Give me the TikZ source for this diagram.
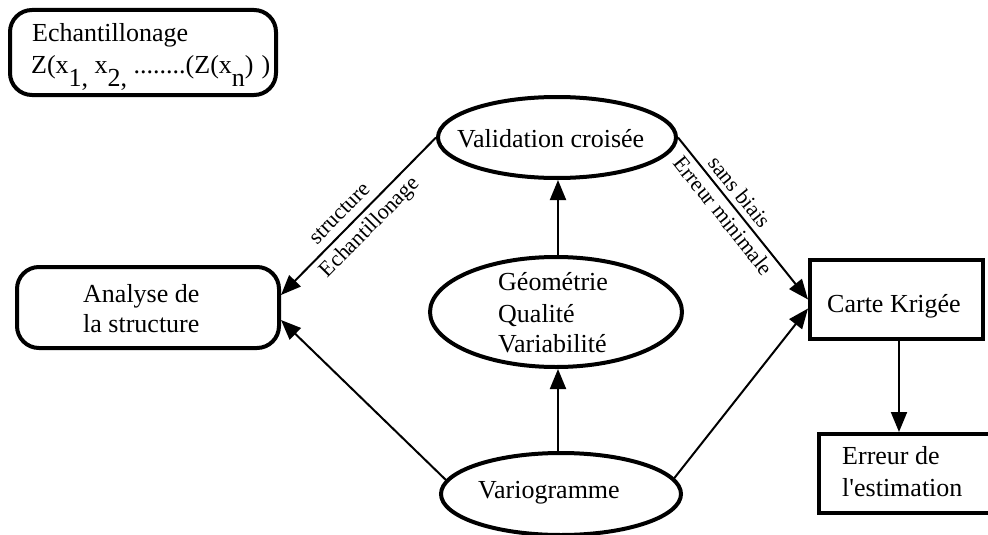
\documentclass[tikz,border=0pt]{standalone}
\usepackage{fontspec}
\setmainfont{Liberation Serif}
\usetikzlibrary{arrows.meta,shapes.geometric}
\newcommand\lowsub[1]{\raisebox{-13pt}{#1}}
\begin{document}
\begin{tikzpicture}[x=1pt,y=1pt,
  shapebox/.style={draw, line width=4pt, inner sep=0pt},
  rbox/.style={shapebox, rectangle, rounded corners=22pt},
  sbox/.style={shapebox, rectangle},
  ell/.style={shapebox, ellipse},
  txt/.style={inner sep=0pt, anchor=base west, font=\fontsize{26}{30}\selectfont},
  lab/.style={inner sep=1.5pt, font=\fontsize{22}{26}\selectfont, sloped},
  arr/.style={line width=2pt, -{Triangle[length=20pt,width=16pt]}}]
\useasboundingbox (0,0) rectangle (988,-535);

% shapes
\node[rbox, minimum width=266pt, minimum height=85pt] (samp) at (143,-52.5) {};
\node[rbox, minimum width=262pt, minimum height=81pt] (ana) at (148,-307.5) {};
\node[sbox, minimum width=173pt, minimum height=79pt] (carte) at (896.5,-299.5) {};
\node[sbox, minimum width=176pt, minimum height=79pt] (err) at (907,-473.5) {};
\node[ell, minimum width=238pt, minimum height=81pt] (val) at (557,-137.5) {};
\node[ell, minimum width=252pt, minimum height=110pt] (geo) at (556,-312) {};
\node[ell, minimum width=240pt, minimum height=82pt] (vario) at (561,-494) {};

% texts
\node[txt] (sampA) at (32,-42) {Echantillonage};
\node[txt] (sampB) at (31,-74) {Z(x\lowsub{1,} x\lowsub{2,} ........(Z(x\lowsub{n})\hspace{8pt})};
\node[txt] (anaA) at (83,-302) {Analyse de};
\node[txt] (anaB) at (83,-332) {la structure};
\node[txt] (valT) at (457,-147) {Validation croisée};
\node[txt] (geoA) at (498,-290) {Géométrie};
\node[txt] (geoB) at (498,-322) {Qualité};
\node[txt] (geoC) at (498,-352) {Variabilité};
\node[txt] (varT) at (478,-498) {Variogramme};
\node[txt] (carteT) at (827,-312) {Carte Krigée};
\node[txt] (errA) at (842,-464) {Erreur de};
\node[txt] (errB) at (842,-496) {l\textquotesingle estimation};

% connectors
\draw[arr] (val.west) -- node[lab, above=6pt, pos=0.55] {structure}
                         node[lab, below=4pt, pos=0.5] {Echantillonage}
           ([yshift=12.5pt]ana.east);
\draw[arr] (vario.173) -- ([yshift=-12.5pt]ana.east);
\draw[arr] (val.east) -- node[lab, above=4pt, pos=0.39] {sans biais}
                         node[lab, below=3pt, pos=0.43] {Erreur minimale}
           ([yshift=0pt]carte.west);
\draw[arr] (vario.8) -- ([yshift=-9pt]carte.west);
\draw[arr] ([xshift=-3pt]vario.north) -- ([xshift=2pt]geo.south);
\draw[arr] ([xshift=2pt]geo.north) -- ([xshift=1pt]val.south);
\draw[arr] ([xshift=2.5pt]carte.south) -- ([xshift=-8pt]err.north);
\end{tikzpicture}
\end{document}
